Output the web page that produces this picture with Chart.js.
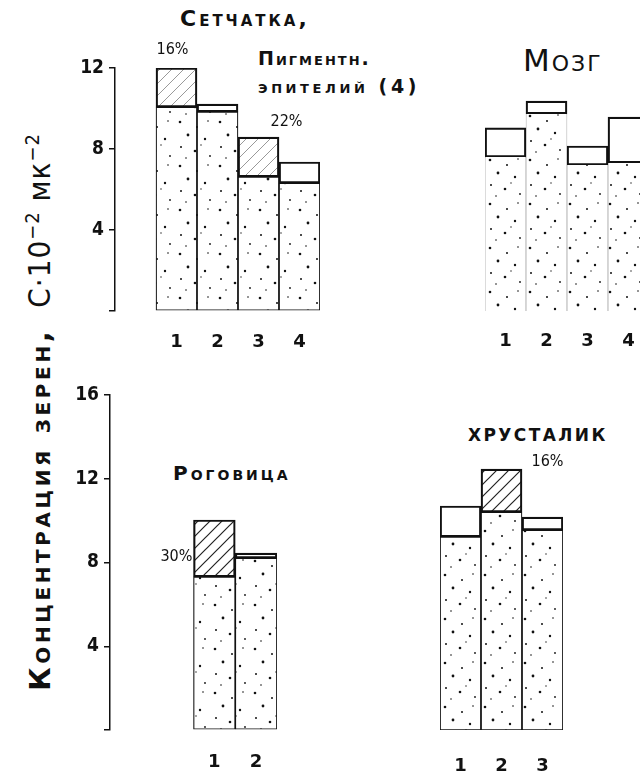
<!DOCTYPE html>
<html>
<head>
<meta charset="utf-8">
<script src="https://cdn.jsdelivr.net/npm/chart.js@4/dist/chart.umd.min.js"></script>
<style>
  html, body { margin: 0; padding: 0; background: #fff; }
  body { width: 640px; height: 779px; position: relative; overflow: hidden; color: #111; font-family: 'DejaVu Sans', sans-serif; }
  canvas { position: absolute; }
  .t { position: absolute; white-space: nowrap; line-height: 1; font-variant: small-caps; font-weight: bold; }
  #ytitle { position: absolute; left: -268px; top: 392px; width: 600px; height: 40px; line-height: 40px;
            text-align: center; white-space: nowrap; transform: rotate(-90deg); }
  #ytitle .k { font-size: 29px; font-weight: bold; font-variant: small-caps; letter-spacing: 3.6px; }
  #ytitle .c { font-size: 31px; font-family: 'DejaVu Sans Condensed', sans-serif; margin-left: 20px; letter-spacing: 1px; }
  #ytitle sup { font-size: 20px; }
</style>
</head>
<body>

<div id="ytitle"><span class="k">Концентрация зерен,</span><span class="c">С·10<sup>−2</sup> мк<sup>−2</sup></span></div>

<div class="t" style="left:180px; top:8px; font-size:22px; letter-spacing:3px;">Сетчатка,</div>
<div class="t" style="left:258px; top:49px; font-size:19px; letter-spacing:2px;">Пигментн.</div>
<div class="t" style="left:258px; top:77px; font-size:19px; letter-spacing:3.6px;">эпителий (4)</div>
<div class="t" style="left:523px; top:45px; font-size:31px; font-weight:normal; letter-spacing:2px;">Мозг</div>
<div class="t" style="left:173px; top:463px; font-size:20px; letter-spacing:3px;">Роговица</div>
<div class="t" style="left:468px; top:427px; font-size:17px; letter-spacing:2.4px; font-variant:normal; text-transform:uppercase;">Хрусталик</div>

<canvas id="retina" width="265" height="331" style="left:55px; top:30px;"></canvas>
<canvas id="brain" width="164" height="293" style="left:485px; top:68px;"></canvas>
<canvas id="cornea" width="227" height="399" style="left:50px; top:381px;"></canvas>
<canvas id="lens" width="123" height="385" style="left:440px; top:395px;"></canvas>

<script>
// grain concentration, C·10^-2 мк^-2 ; base = dotted part, total = top of bar
const retinaLabels = ['1', '2', '3', '4'];
const retinaBase = [10.07, 9.83, 6.62, 6.32];
const retinaTotal = [12.0, 10.22, 8.59, 7.36];
const retinaPct = ['16%', '', '22%', ''];

const brainLabels = ['1', '2', '3', '4'];
const brainBase = [7.60, 9.73, 7.21, 7.31];
const brainTotal = [9.04, 10.37, 8.15, 9.58];
const brainPct = ['', '', '', ''];

const corneaLabels = ['1', '2'];
const corneaBase = [7.31, 8.21];
const corneaTotal = [10.03, 8.45];
const corneaPct = ['30%', ''];

const lensLabels = ['1', '2', '3'];
const lensBase = [9.22, 10.41, 9.55];
const lensTotal = [10.70, 12.46, 10.17];
const lensPct = ['', '16%', ''];

const topAxisMax = 12;
const bottomAxisMax = 16;
const axisStep = 4;

// fill textures
function dotPattern() {
  const c = document.createElement('canvas');
  c.width = 40; c.height = 44;
  const g = c.getContext('2d');
  g.fillStyle = '#fff';
  g.fillRect(0, 0, 40, 44);
  g.fillStyle = '#111';
  const dots = [[5, 4, 1.3], [22, 9, 1.0], [33, 3, 0.8], [13, 17, 1.4], [30, 21, 1.2],
                [6, 29, 1.0], [20, 33, 1.3], [35, 38, 0.9], [11, 40, 0.8], [26, 27, 0.7]];
  dots.forEach(([x, y, r]) => { g.beginPath(); g.arc(x, y, r, 0, Math.PI * 2); g.fill(); });
  return g.createPattern(c, 'repeat');
}

function hatchPattern(color, lw) {
  const s = 12;
  const c = document.createElement('canvas');
  c.width = s; c.height = s;
  const g = c.getContext('2d');
  g.fillStyle = '#fff';
  g.fillRect(0, 0, s, s);
  g.strokeStyle = color;
  g.lineWidth = lw;
  g.beginPath();
  g.moveTo(-1, s + 1); g.lineTo(s + 1, -1);
  g.moveTo(-1, 1); g.lineTo(1, -1);
  g.moveTo(s - 1, s + 1); g.lineTo(s + 1, s - 1);
  g.stroke();
  return g.createPattern(c, 'repeat');
}

const dots = dotPattern();
const faintHatch = hatchPattern('#999', 1);
const darkHatch = hatchPattern('#222', 1.2);

// percent labels, placed from the bar they belong to
function notesPlugin(items) {
  return {
    id: 'notes',
    afterDatasetsDraw(chart) {
      const ctx = chart.ctx, xs = chart.scales.x, ys = chart.scales.y;
      ctx.save();
      ctx.fillStyle = '#111';
      ctx.font = '16px "DejaVu Sans Condensed"';
      ctx.textBaseline = 'middle';
      items.forEach(it => {
        ctx.textAlign = it.align || 'center';
        ctx.fillText(it.text, xs.getPixelForValue(it.index) + it.dx, ys.getPixelForValue(it.value) + it.dy);
      });
      ctx.restore();
    }
  };
}

function panel(id, o) {
  const n = o.spacers || 0;
  const pad = Array(n).fill(null);
  const labels = Array(n).fill('').concat(o.labels);
  const lower = pad.concat(o.base);
  const upper = pad.concat(o.base.map((b, i) => [b, o.total[i]]));
  const upperFill = Array(n).fill('#fff').concat(o.pct.map(p => p ? o.hatch : '#fff'));
  const notes = [];
  o.pct.forEach((p, i) => {
    if (p) notes.push(Object.assign({ text: p, index: n + i, value: o.total[i] }, o.noteAt.shift()));
  });

  new Chart(document.getElementById(id), {
    type: 'bar',
    data: {
      labels: labels,
      datasets: [
        {
          data: lower,
          backgroundColor: dots,
          borderColor: o.lowerBorder || '#111',
          borderWidth: o.lowerWidth !== undefined ? o.lowerWidth : 1.2,
          borderSkipped: false,
          grouped: false,
          categoryPercentage: 1,
          barPercentage: 1
        },
        {
          data: upper,
          backgroundColor: upperFill,
          borderColor: '#111',
          borderWidth: 2.2,
          borderSkipped: false,
          grouped: false,
          categoryPercentage: 1,
          barPercentage: 1
        }
      ]
    },
    options: {
      responsive: false,
      animation: false,
      layout: { padding: { top: o.padTop || 0 } },
      plugins: { legend: { display: false }, tooltip: { enabled: false } },
      scales: {
        x: {
          grid: { display: false, drawTicks: false },
          border: { display: false },
          ticks: { color: '#111', padding: o.xPad, font: { family: 'DejaVu Sans', weight: 'bold', size: 18 } },
          afterFit: s => { s.height = 50; s.paddingLeft = 0; s.paddingRight = 0; }
        },
        y: {
          display: o.axis,
          min: 0,
          max: o.yMax,
          ticks: {
            stepSize: axisStep,
            padding: 5,
            color: '#111',
            font: { family: 'DejaVu Sans Condensed', weight: 'bold', size: 19 },
            callback: v => (v === 0 ? '' : v)
          },
          grid: { display: true, drawOnChartArea: false, drawTicks: true, tickLength: 6, color: '#111', lineWidth: 1.5 },
          border: { display: true, color: '#111', width: 1.5 },
          afterFit: s => { if (o.axis) { s.width = 60; s.paddingTop = 14; s.paddingBottom = 0; } }
        }
      }
    },
    plugins: [notesPlugin(notes)]
  });
}

panel('retina', {
  labels: retinaLabels, base: retinaBase, total: retinaTotal, pct: retinaPct,
  spacers: 1, axis: true, yMax: topAxisMax, hatch: faintHatch, padTop: 38, xPad: 21,
  noteAt: [{ dx: -4, dy: -18 }, { dx: 28, dy: -15 }]
});

panel('brain', {
  labels: brainLabels, base: brainBase, total: brainTotal, pct: brainPct,
  spacers: 0, axis: false, yMax: topAxisMax, hatch: faintHatch, xPad: 20,
  lowerBorder: 'rgba(0,0,0,0.3)', lowerWidth: { left: 0.8, right: 0.8, top: 0, bottom: 0 },
  noteAt: []
});

panel('cornea', {
  labels: corneaLabels, base: corneaBase, total: corneaTotal, pct: corneaPct,
  spacers: 2, axis: true, yMax: bottomAxisMax, hatch: darkHatch, xPad: 22,
  noteAt: [{ dx: -22, dy: 37, align: 'right' }]
});

panel('lens', {
  labels: lensLabels, base: lensBase, total: lensTotal, pct: lensPct,
  spacers: 0, axis: false, yMax: bottomAxisMax, hatch: darkHatch, xPad: 26,
  noteAt: [{ dx: 46, dy: -7 }]
});
</script>
</body>
</html>
